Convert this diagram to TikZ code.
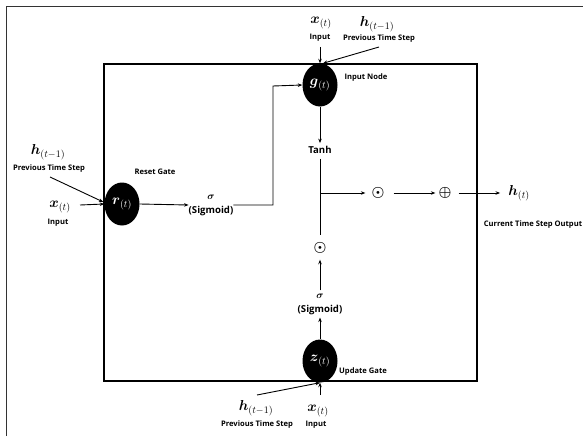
\documentclass[tikz,border=0pt]{standalone}
\usepackage{amsmath}
\usepackage{fontspec}
\setsansfont{Open Sans}
\usetikzlibrary{arrows.meta,shapes.geometric,calc}
\begin{document}
\begin{tikzpicture}[x=1pt,y=-1pt,
 arr/.style={-{Stealth[length=4.5pt,width=3.5pt]}, line width=0.9pt},
 ln/.style={line width=0.9pt},
 gate/.style={ellipse, fill=black, minimum width=35pt, minimum height=43pt, inner sep=0pt, text=white, font=\fontsize{14}{14}\selectfont},
 lbl/.style={font=\sffamily\bfseries\fontsize{7.6}{8}\selectfont, inner sep=0pt},
 mth/.style={font=\fontsize{14}{14}\selectfont, inner sep=0pt},
 fn/.style={font=\sffamily\bfseries\fontsize{9.6}{14}\selectfont, inner sep=0pt, align=center},
 op/.style={font=\fontsize{15}{15}\selectfont, inner sep=0pt}]
\useasboundingbox (0,0) rectangle (583,436);
\draw[line width=0.8pt, black!80] (6,436) -- (6,6) -- (583,6);
\draw[line width=1.4pt] (104,64) rectangle (477,381);

% gates
\node[gate] (r) at (122,204) {$\boldsymbol{r}_{(t)}$};
\node[gate] (g) at (320,85) {$\boldsymbol{g}_{(t)}$};
\node[gate] (z) at (320,361) {$\boldsymbol{z}_{(t)}$};

% left inputs
\node[mth] (xl) at (60,207) {$\boldsymbol{x}_{(t)}$};
\node[lbl] (xlin) at (58,223) {Input};
\node[mth] (hl) at (48,152) {$\boldsymbol{h}_{(t-1)}$};
\node[lbl] (hllab) at (49,169) {Previous Time Step};
\coordinate (xls) at (80,205);
\coordinate (hls) at (50,177);
\draw[arr] (xls) -- (r.west);
\draw[arr] (hls) -- ($(r.west)+(-1,-2)$);
\node[lbl] (rg) at (155,172) {Reset Gate};

% reset sigmoid
\node[fn] (sig1) at (211,205) {$\boldsymbol{\sigma}$\\(Sigmoid)};
\draw[arr] (r.east) -- (sig1.west);
\coordinate (elb) at (273,86);
\draw[arr] (sig1.east) -| (elb) -- (g.west);

% top inputs
\node[mth] (xt) at (321,23) {$\boldsymbol{x}_{(t)}$};
\node[lbl] (xtin) at (320,38) {Input};
\node[mth] (ht) at (377,24) {$\boldsymbol{h}_{(t-1)}$};
\node[lbl] (htlab) at (379,39) {Previous Time Step};
\coordinate (xts) at (320,47);
\coordinate (hts) at (379,47);
\draw[arr] (xts) -- (g.north);
\draw[arr] (hts) -- ($(g.north)+(3,0)$);
\node[lbl] (inode) at (366,78) {Input Node};

% tanh
\node[fn] (tanh) at (320,150) {Tanh};
\draw[arr] (g.south) -- ($(tanh.north)+(0,-3)$);
\coordinate (tb) at (320,235);
\coordinate (jn) at (320,193);
\draw[ln] ($(tanh.south)+(0,5)$) -- (tb);

% output chain
\node[op] (od1) at (378,193) {$\boldsymbol{\odot}$};
\node[op] (opl) at (445,193) {$\boldsymbol{\oplus}$};
\node[mth] (ht2) at (519,193) {$\boldsymbol{h}_{(t)}$};
\node[lbl] (outl) at (533,225) {Current Time Step Output};
\draw[arr] (jn) -- ($(od1.west)+(-6,0)$);
\draw[arr] ($(od1.east)+(9,0)$) -- ($(opl.west)+(-3,0)$);
\draw[arr] ($(opl.east)+(7,0)$) -- ($(ht2.west)+(-8,0)$);

% update path
\node[op] (od2) at (320,248) {$\boldsymbol{\odot}$};
\node[fn] (sig2) at (320,304) {$\boldsymbol{\sigma}$\\(Sigmoid)};
\draw[arr] ($(sig2.north)+(0,-3)$) -- ($(od2.south)+(0,6)$);
\draw[arr] (z.north) -- ($(sig2.south)+(0,3)$);
\node[lbl] (ug) at (363,372) {Update Gate};

% bottom inputs
\node[mth] (xb) at (318,411) {$\boldsymbol{x}_{(t)}$};
\node[lbl] (xbin) at (316,425) {Input};
\node[mth] (hb) at (256,408) {$\boldsymbol{h}_{(t-1)}$};
\node[lbl] (hblab) at (257,425) {Previous Time Step};
\coordinate (xbs) at (320,395);
\coordinate (hbs) at (257,395);
\draw[arr] (xbs) -- (z.south);
\draw[arr] (hbs) -- (z.south);
\end{tikzpicture}
\end{document}
